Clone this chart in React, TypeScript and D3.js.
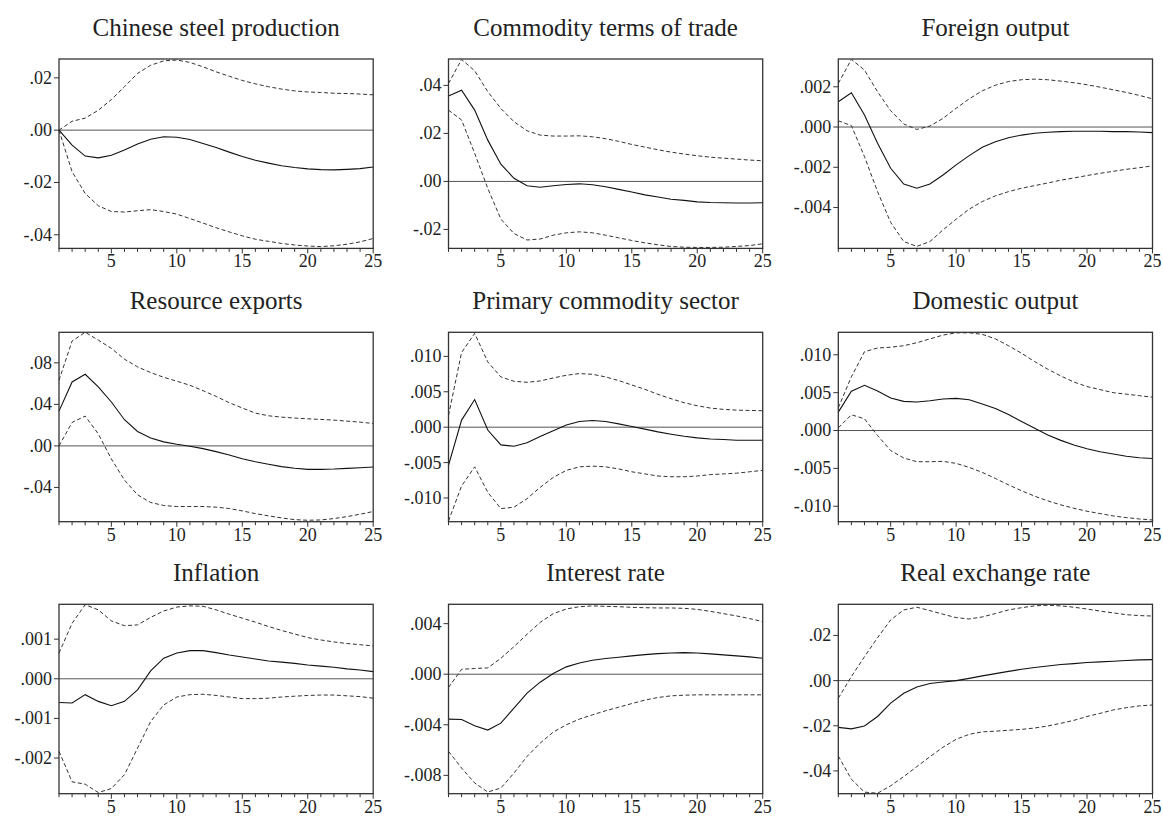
import React from "react";
import * as d3 from "d3";

// Horizon (quarters) for every impulse response
const periods: number[] = d3.range(1, 26);
const xTicks: number[] = [5, 10, 15, 20, 25];

const titles: string[] = [
  "Chinese steel production",
  "Commodity terms of trade",
  "Foreign output",
  "Resource exports",
  "Primary commodity sector",
  "Domestic output",
  "Inflation",
  "Interest rate",
  "Real exchange rate",
];

// Chinese steel production
const steelMid = [0, -0.0057, -0.0099, -0.0106, -0.0096, -0.0076, -0.0053, -0.0035, -0.0025, -0.0027, -0.0036, -0.0051, -0.0066, -0.0084, -0.0101, -0.0115, -0.0126, -0.0136, -0.0143, -0.0148, -0.0151, -0.0152, -0.015, -0.0147, -0.0141];
const steelUp = [0, 0.0034, 0.0046, 0.0076, 0.0117, 0.0166, 0.0217, 0.0248, 0.0265, 0.0268, 0.0259, 0.0242, 0.0223, 0.0206, 0.019, 0.0177, 0.0166, 0.0157, 0.015, 0.0146, 0.0144, 0.0141, 0.014, 0.0138, 0.0135];
const steelLo = [0, -0.0159, -0.0242, -0.0289, -0.0311, -0.0313, -0.0308, -0.0304, -0.0311, -0.0321, -0.0338, -0.0355, -0.0373, -0.0389, -0.0404, -0.0417, -0.0425, -0.0433, -0.0439, -0.0443, -0.0445, -0.0442, -0.0436, -0.0427, -0.0414];

// Commodity terms of trade
const totMid = [0.0356, 0.038, 0.0297, 0.0172, 0.0072, 0.0013, -0.0018, -0.0024, -0.0018, -0.0013, -0.001, -0.0014, -0.0022, -0.0033, -0.0044, -0.0056, -0.0065, -0.0074, -0.0079, -0.0085, -0.0088, -0.0089, -0.009, -0.009, -0.0089];
const totUp = [0.0408, 0.0508, 0.0461, 0.0374, 0.0304, 0.0249, 0.0211, 0.0193, 0.0189, 0.0189, 0.019, 0.0186, 0.0178, 0.0167, 0.0154, 0.0143, 0.0132, 0.0122, 0.0114, 0.0107, 0.0101, 0.0097, 0.0093, 0.0089, 0.0086];
const totLo = [0.0297, 0.0256, 0.0117, -0.0029, -0.0157, -0.0217, -0.0244, -0.024, -0.0224, -0.0214, -0.021, -0.0214, -0.0224, -0.0235, -0.0246, -0.0256, -0.0264, -0.0271, -0.0274, -0.0275, -0.0275, -0.0274, -0.0271, -0.0267, -0.026];

// Foreign output
const forMid = [0.00126, 0.0017, 0.0006, -0.00081, -0.00205, -0.00283, -0.00304, -0.00283, -0.00238, -0.00188, -0.00142, -0.00101, -0.00073, -0.00053, -0.0004, -0.00031, -0.00026, -0.00023, -0.00021, -0.00021, -0.00021, -0.00023, -0.00023, -0.00025, -0.00028];
const forUp = [0.00217, 0.00336, 0.00283, 0.00175, 0.00081, 0.00015, -0.00012, 0.00005, 0.00043, 0.00093, 0.0014, 0.0018, 0.00208, 0.00226, 0.00235, 0.00238, 0.00235, 0.00228, 0.0022, 0.0021, 0.00198, 0.00185, 0.00172, 0.00157, 0.0014];
const forLo = [0.00031, 0.00007, -0.00147, -0.00321, -0.00474, -0.00569, -0.00593, -0.00569, -0.00511, -0.00458, -0.00408, -0.0037, -0.00342, -0.00321, -0.00304, -0.00291, -0.00278, -0.00264, -0.00253, -0.00241, -0.0023, -0.0022, -0.0021, -0.00202, -0.00193];

// Resource exports
const expMid = [0.0335, 0.0616, 0.069, 0.0568, 0.0423, 0.0252, 0.0139, 0.0077, 0.0039, 0.0016, -0.0003, -0.0026, -0.0055, -0.0087, -0.0123, -0.0152, -0.0177, -0.02, -0.0216, -0.0226, -0.0226, -0.0223, -0.0216, -0.021, -0.0203];
const expUp = [0.0632, 0.101, 0.1094, 0.1019, 0.0939, 0.0835, 0.0761, 0.0706, 0.0661, 0.0623, 0.0584, 0.0532, 0.0477, 0.0416, 0.0365, 0.0316, 0.029, 0.0277, 0.0268, 0.0261, 0.0255, 0.0248, 0.0239, 0.0229, 0.0216];
const expLo = [0, 0.0226, 0.0287, 0.0116, -0.0126, -0.0329, -0.0471, -0.0545, -0.0574, -0.0584, -0.0584, -0.0584, -0.059, -0.0603, -0.0626, -0.0652, -0.0674, -0.0694, -0.071, -0.0716, -0.0713, -0.07, -0.0681, -0.0658, -0.0632];

// Primary commodity sector
const primMid = [-0.0054, 0.001, 0.0039, -0.0004, -0.0025, -0.0027, -0.0022, -0.0013, -0.0005, 0.0003, 0.0008, 0.00095, 0.0008, 0.00047, 0.0001, -0.00028, -0.00066, -0.00099, -0.00128, -0.00151, -0.00166, -0.00175, -0.00184, -0.00184, -0.00184];
const primUp = [0.00166, 0.01055, 0.01325, 0.00922, 0.0071, 0.00648, 0.00634, 0.00653, 0.00695, 0.00733, 0.00757, 0.00747, 0.0071, 0.00658, 0.00596, 0.00535, 0.00464, 0.00402, 0.00345, 0.00303, 0.0027, 0.00251, 0.00241, 0.00236, 0.00232];
const primLo = [-0.01325, -0.0083, -0.0056, -0.0092, -0.0115, -0.0113, -0.0101, -0.0085, -0.0071, -0.0061, -0.0056, -0.0055, -0.0056, -0.0059, -0.0063, -0.0066, -0.0069, -0.007, -0.007, -0.0069, -0.0067, -0.0066, -0.0065, -0.0063, -0.0061];

// Domestic output
const domMid = [0.00243, 0.00518, 0.00597, 0.00522, 0.00429, 0.00385, 0.00376, 0.00394, 0.00416, 0.00425, 0.00407, 0.0035, 0.0029, 0.0021, 0.0012, 0.0003, -0.0006, -0.0013, -0.0019, -0.0024, -0.0028, -0.0031, -0.0034, -0.0036, -0.0037];
const domUp = [0.003, 0.0071, 0.0104, 0.0109, 0.011, 0.0112, 0.0116, 0.0121, 0.0126, 0.0129, 0.0129, 0.0127, 0.0121, 0.0112, 0.0102, 0.0091, 0.0081, 0.0072, 0.0064, 0.0058, 0.0054, 0.005, 0.0048, 0.0046, 0.0044];
const domLo = [0.00035, 0.00208, 0.00155, -0.00066, -0.00265, -0.00363, -0.00412, -0.00412, -0.00407, -0.00434, -0.00487, -0.00553, -0.00633, -0.00717, -0.00796, -0.00867, -0.00929, -0.00982, -0.01027, -0.01066, -0.01097, -0.01128, -0.0115, -0.01168, -0.01181];

// Inflation
const infMid = [-0.0006, -0.00061, -0.0004, -0.00057, -0.00068, -0.00057, -0.00028, 0.0002, 0.00052, 0.00065, 0.00071, 0.00071, 0.00066, 0.0006, 0.00055, 0.0005, 0.00045, 0.00042, 0.00039, 0.00035, 0.00032, 0.00029, 0.00025, 0.00022, 0.00018];
const infUp = [0.00065, 0.0014, 0.00187, 0.00174, 0.00146, 0.00134, 0.00136, 0.00155, 0.00171, 0.00181, 0.00184, 0.00183, 0.00174, 0.00163, 0.00153, 0.00143, 0.00132, 0.00122, 0.00113, 0.00104, 0.00098, 0.00093, 0.00089, 0.00086, 0.00083];
const infLo = [-0.00183, -0.0026, -0.00266, -0.00287, -0.00277, -0.00242, -0.00175, -0.00108, -0.00066, -0.00046, -0.0004, -0.00039, -0.00042, -0.00046, -0.0005, -0.0005, -0.00049, -0.00046, -0.00044, -0.00042, -0.00041, -0.00041, -0.00043, -0.00045, -0.00049];

// Interest rate
const rateMid = [-0.00355, -0.00358, -0.00408, -0.00442, -0.00387, -0.00268, -0.0015, -0.00063, 0.00005, 0.00058, 0.00089, 0.00111, 0.00124, 0.00134, 0.00145, 0.00155, 0.00163, 0.00168, 0.00171, 0.00168, 0.00161, 0.00153, 0.00145, 0.00137, 0.00126];
const rateUp = [-0.00105, 0.00039, 0.00045, 0.0005, 0.00126, 0.00218, 0.00316, 0.0041, 0.00479, 0.00516, 0.00534, 0.0054, 0.00537, 0.00534, 0.00529, 0.00526, 0.00524, 0.00524, 0.00521, 0.00513, 0.00497, 0.00479, 0.00461, 0.0044, 0.00416];
const rateLo = [-0.0061, -0.00742, -0.0086, -0.00932, -0.009, -0.00782, -0.0065, -0.00545, -0.00458, -0.004, -0.00355, -0.00321, -0.00289, -0.00261, -0.00232, -0.00205, -0.00184, -0.00171, -0.00166, -0.00163, -0.00163, -0.00163, -0.00163, -0.00163, -0.00163];

// Real exchange rate
const rerMid = [-0.0207, -0.0214, -0.0201, -0.0159, -0.01, -0.0056, -0.0028, -0.0013, -0.0006, 0, 0.001, 0.0021, 0.0031, 0.0041, 0.005, 0.0058, 0.0065, 0.0071, 0.0075, 0.008, 0.0083, 0.0086, 0.0089, 0.0092, 0.0093];
const rerUp = [-0.0078, 0.0018, 0.0106, 0.019, 0.0269, 0.0313, 0.0325, 0.031, 0.0294, 0.0279, 0.0273, 0.0282, 0.0297, 0.0313, 0.0323, 0.0331, 0.0334, 0.0331, 0.0325, 0.0317, 0.0308, 0.03, 0.0292, 0.0288, 0.0286];
const rerLo = [-0.0334, -0.0437, -0.0494, -0.0499, -0.0466, -0.0425, -0.0381, -0.0337, -0.0295, -0.026, -0.0238, -0.0227, -0.0224, -0.022, -0.0216, -0.021, -0.0201, -0.0189, -0.0176, -0.0159, -0.0145, -0.013, -0.012, -0.0112, -0.0108];

// Vertical extent of each panel
const yRanges: [number, number][] = [
  [-0.0452, 0.0272],
  [-0.0279, 0.051],
  [-0.00603, 0.00338],
  [-0.073, 0.1094],
  [-0.01335, 0.0134],
  [-0.01204, 0.01297],
  [-0.0029, 0.00188],
  [-0.00945, 0.00553],
  [-0.0501, 0.0338],
];

// Y tick values and the number of decimals in their labels
const yTickValues: number[][] = [
  [-0.04, -0.02, 0, 0.02],
  [-0.02, 0, 0.02, 0.04],
  [-0.004, -0.002, 0, 0.002],
  [-0.04, 0, 0.04, 0.08],
  [-0.01, -0.005, 0, 0.005, 0.01],
  [-0.01, -0.005, 0, 0.005, 0.01],
  [-0.002, -0.001, 0, 0.001],
  [-0.008, -0.004, 0, 0.004],
  [-0.04, -0.02, 0, 0.02],
];
const yTickDecimals: number[] = [2, 2, 3, 2, 3, 3, 3, 3, 2];

const mids = [steelMid, totMid, forMid, expMid, primMid, domMid, infMid, rateMid, rerMid];
const ups = [steelUp, totUp, forUp, expUp, primUp, domUp, infUp, rateUp, rerUp];
const los = [steelLo, totLo, forLo, expLo, primLo, domLo, infLo, rateLo, rerLo];

const W = 1163;
const H = 818;
const colLeft = [59, 448.5, 838.3];
const rowTop = [59, 332.3, 604.3];
const plotW = 314.2;
const plotH = 189.4;
const FONT = "'Liberation Serif', 'Times New Roman', serif";
const INK = "#222";

function fmtTick(v: number, d: number): string {
  const s = v.toFixed(d);
  return s.replace(/^(-?)0\./, "$1.");
}

function Panel({ idx }: { idx: number }) {
  const col = idx % 3;
  const row = Math.floor(idx / 3);
  const x0 = colLeft[col];
  const y0 = rowTop[row];
  const x = d3.scaleLinear().domain([1, 25]).range([0, plotW]);
  const y = d3.scaleLinear().domain(yRanges[idx]).range([plotH, 0]);
  const line = d3
    .line<number>()
    .x((_, i) => x(periods[i]))
    .y((v) => y(v));

  return (
    <g transform={`translate(${x0},${y0})`}>
      <text
        x={plotW / 2}
        y={-23.5}
        textAnchor="middle"
        fontFamily={FONT}
        fontSize={25}
        fill={INK}
      >
        {titles[idx]}
      </text>
      {/* zero reference line */}
      <line x1={0} x2={plotW} y1={y(0)} y2={y(0)} stroke="#555" strokeWidth={1} />
      <path d={line(ups[idx]) || ""} fill="none" stroke="#333" strokeWidth={1} strokeDasharray="4,2.5" />
      <path d={line(los[idx]) || ""} fill="none" stroke="#333" strokeWidth={1} strokeDasharray="4,2.5" />
      <path d={line(mids[idx]) || ""} fill="none" stroke="#111" strokeWidth={1.1} />
      <rect x={0} y={0} width={plotW} height={plotH} fill="none" stroke="#333" strokeWidth={1.3} />
      {/* y axis */}
      {yTickValues[idx].map((t) => (
        <g key={t} transform={`translate(0,${y(t)})`}>
          <line x1={-5} x2={0} stroke="#333" strokeWidth={1} />
          <text
            x={-7}
            dy="0.33em"
            textAnchor="end"
            fontFamily={FONT}
            fontSize={18}
            fill={INK}
          >
            {fmtTick(t, yTickDecimals[idx])}
          </text>
        </g>
      ))}
      {/* x axis */}
      {periods.map((p) => (
        <line
          key={p}
          x1={x(p)}
          x2={x(p)}
          y1={plotH}
          y2={plotH + (p % 5 === 0 ? 5 : 3.5)}
          stroke="#333"
          strokeWidth={1}
        />
      ))}
      {xTicks.map((t) => (
        <text
          key={t}
          x={x(t)}
          y={plotH + 19}
          textAnchor="middle"
          fontFamily={FONT}
          fontSize={18}
          fill={INK}
        >
          {t}
        </text>
      ))}
    </g>
  );
}

export default function App() {
  return (
    <div style={{ position: "absolute", left: 0, top: 0 }}>
      <svg width={W} height={H} viewBox={`0 0 ${W} ${H}`} style={{ display: "block", background: "#fff" }}>
        {titles.map((_, i) => (
          <Panel key={i} idx={i} />
        ))}
      </svg>
    </div>
  );
}
